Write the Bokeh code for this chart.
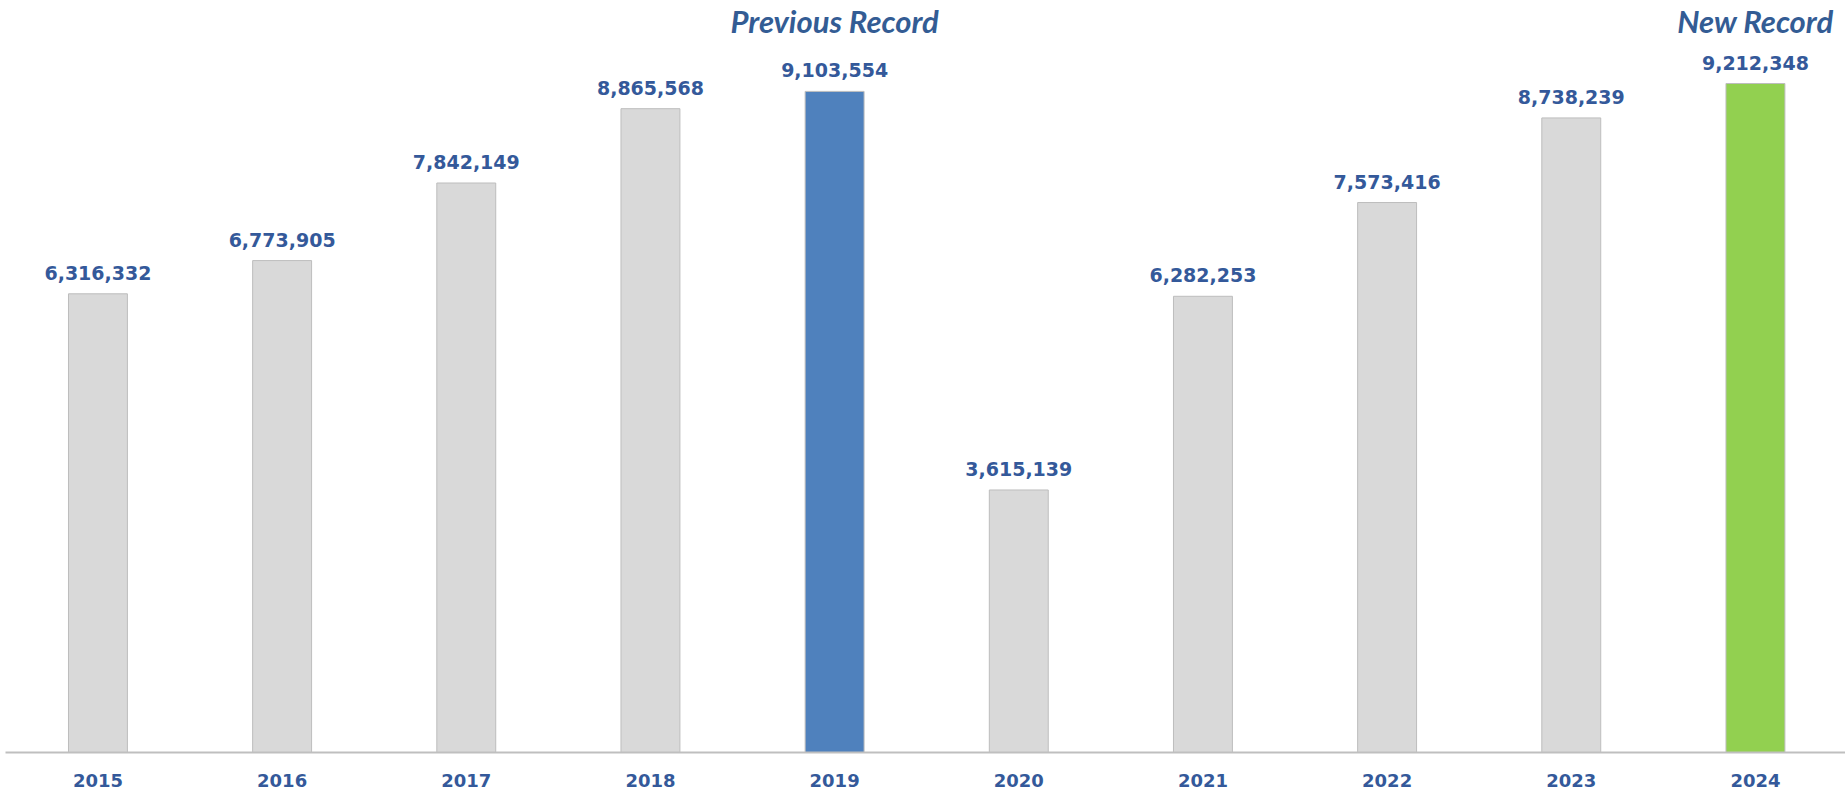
from bokeh.plotting import figure
from bokeh.models import ColumnDataSource, Range1d, FixedTicker, Label
from bokeh.core.properties import value
from bokeh.embed import file_html
from bokeh.resources import INLINE

# ---- data ----
years = [2015, 2016, 2017, 2018, 2019, 2020, 2021, 2022, 2023, 2024]
visitors = [6316332, 6773905, 7842149, 8865568, 9103554, 3615139, 6282253, 7573416, 8738239, 9212348]
bar_colors = ["#D9D9D9", "#D9D9D9", "#D9D9D9", "#D9D9D9", "#4F81BD",
              "#D9D9D9", "#D9D9D9", "#D9D9D9", "#D9D9D9", "#92D050"]
record_years = [2019, 2024]
record_texts = ["Previous Record", "New Record"]

TXT = "#34599A"
W, H = 1845, 792
frame_h = 752
top_val = max(visitors)
y_end = frame_h * top_val / 669.0
px = y_end / frame_h

src = ColumnDataSource(dict(
    x=years, top=visitors, color=bar_colors,
    label=[f"{v:,}" for v in visitors],
))

p = figure(width=W, height=H, output_backend="svg", toolbar_location=None,
           x_range=Range1d(2014.498, 2024.489), y_range=Range1d(0, y_end),
           min_border_left=5, min_border_right=0, min_border_top=0,
           min_border_bottom=H - frame_h)
p.outline_line_color = None
p.xgrid.visible = False
p.ygrid.visible = False
p.yaxis.visible = False
p.background_fill_color = "white"
p.border_fill_color = "white"

p.vbar(x="x", top="top", bottom=0, width=0.32, source=src,
       fill_color="color", line_color="#BDBDBD", line_width=1)

p.text(x="x", y="top", text="label", source=src, text_align="center",
       text_baseline="alphabetic", y_offset=-21,
       text_font=value("DejaVu Sans"), text_font_style="bold",
       text_font_size="19px", text_color=TXT)

for yr, t in zip(record_years, record_texts):
    p.add_layout(Label(x=yr, y=y_end - 20 * px, text=t, text_align="center",
                       text_baseline="middle", text_font="Lato",
                       text_font_style="bold italic", text_font_size="31px",
                       text_color="#335C94"))

ax = p.xaxis[0]
ax.ticker = FixedTicker(ticks=years)
ax.axis_line_color = "#BFBFBF"
ax.axis_line_width = 2
ax.major_tick_line_color = None
ax.minor_tick_line_color = None
ax.major_label_standoff = 15
ax.major_label_text_font = "DejaVu Sans"
ax.major_label_text_font_style = "bold"
ax.major_label_text_font_size = "18px"
ax.major_label_text_color = TXT

open("out.html", "w").write(file_html(p, INLINE))
